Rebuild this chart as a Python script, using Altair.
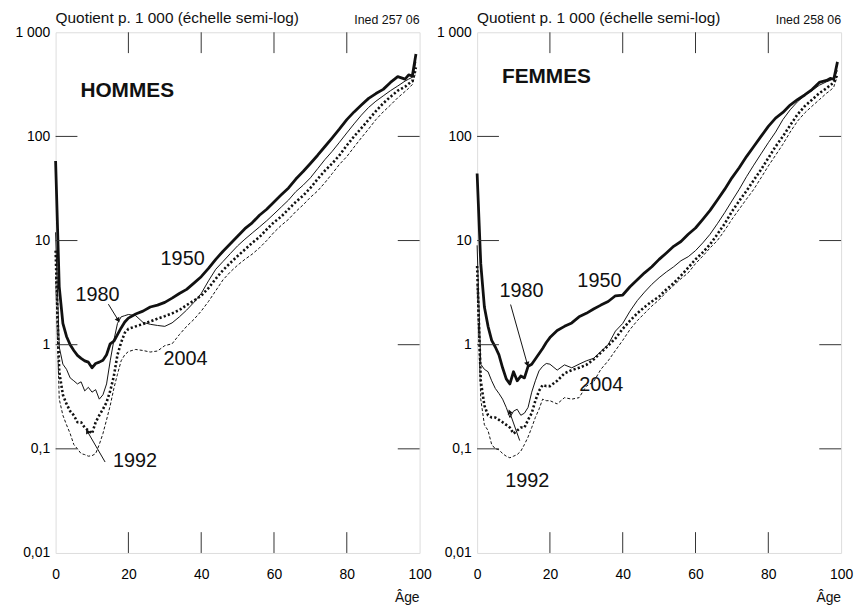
import altair as alt
import pandas as pd

# ---------------- data (quotients de mortalité p. 1 000) ----------------
AGES = list(range(0, 21)) + list(range(22, 97, 2)) + [97, 98, 99]

HOMMES_1950 = [58, 3.6, 1.6, 1.2, 1.0, 0.88, 0.79, 0.74, 0.70, 0.68, 0.60, 0.66, 0.68, 0.71, 0.80, 1.02, 1.08, 1.25, 1.45, 1.65, 1.8,
               1.97, 2.1, 2.3, 2.4, 2.55, 2.8, 3.1, 3.4, 3.9, 4.5, 5.4, 6.6, 7.9, 9.3, 11, 13, 14.8, 17.5, 20, 23.5, 27.5, 32,
               39, 46, 55, 66, 80, 97, 118, 145, 172, 200, 232, 258, 283, 330, 375, 355, 390, 380, 620]
HOMMES_1980 = [12, 0.95, 0.65, 0.58, 0.48, 0.45, 0.42, 0.44, 0.36, 0.39, 0.35, 0.37, 0.30, 0.33, 0.42, 0.70, 1.1, 1.6, 1.85, 1.9, 1.95,
               1.9, 1.64, 1.57, 1.53, 1.5, 1.62, 1.85, 2.15, 2.55, 3.1, 4.1, 5.3, 6.3, 7.5, 8.9, 10.3, 11.8, 13.5, 15.5, 18, 21, 24.5,
               29.5, 34, 40, 49, 60, 72, 88, 108, 132, 160, 190, 218, 245, 275, 305, 340, 355, 370, 520]
HOMMES_1992 = [8, 0.55, 0.33, 0.27, 0.23, 0.21, 0.18, 0.18, 0.16, 0.15, 0.14, 0.18, 0.21, 0.24, 0.28, 0.36, 0.5, 0.8, 1.05, 1.3, 1.42,
               1.5, 1.58, 1.67, 1.78, 1.88, 2.0, 2.15, 2.4, 2.65, 2.95, 3.5, 4.3, 5.2, 6.1, 7.1, 8.2, 9.5, 10.8, 12.8, 15, 17, 20,
               23.5, 27, 32, 39, 47, 55, 66, 82, 100, 120, 145, 175, 208, 240, 275, 300, 320, 340, 460]
HOMMES_2004 = [4.5, 0.3, 0.21, 0.17, 0.14, 0.11, 0.1, 0.09, 0.088, 0.085, 0.086, 0.09, 0.11, 0.14, 0.19, 0.26, 0.38, 0.52, 0.7, 0.8, 0.86,
               0.9, 0.88, 0.85, 0.87, 0.98, 1.02, 1.25, 1.5, 1.75, 2.1, 2.6, 3.3, 4.2, 5.0, 5.8, 6.6, 7.4, 8.5, 10, 12, 14, 16,
               19, 22, 26, 30, 36, 44, 54, 64, 79, 97, 118, 145, 172, 200, 235, 270, 290, 315, 420]

FEMMES_1950 = [44, 6, 2.3, 1.5, 1.1, 0.95, 0.8, 0.6, 0.47, 0.42, 0.55, 0.45, 0.5, 0.48, 0.62, 0.65, 0.73, 0.82, 0.92, 1.05, 1.17,
               1.37, 1.5, 1.62, 1.85, 2.0, 2.2, 2.4, 2.6, 2.95, 3.0, 3.6, 4.2, 4.9, 5.6, 6.6, 7.6, 8.8, 9.8, 11.5, 13.2, 16, 19.5,
               24.5, 31, 40, 50, 64, 80, 100, 125, 150, 170, 200, 225, 250, 282, 330, 345, 360, 355, 520]
FEMMES_1980 = [9, 0.65, 0.58, 0.55, 0.45, 0.38, 0.34, 0.3, 0.25, 0.2, 0.23, 0.24, 0.21, 0.22, 0.25, 0.35, 0.45, 0.56, 0.62, 0.66, 0.65,
               0.57, 0.64, 0.6, 0.65, 0.7, 0.74, 0.86, 1.0, 1.35, 1.6, 2.1, 2.65, 3.2, 3.8, 4.4, 5.0, 5.6, 6.4, 7.0, 8.0, 9.5, 11.5,
               14.5, 18.5, 24, 31, 41, 53, 68, 87, 110, 145, 180, 215, 248, 275, 310, 335, 345, 360, 430]
FEMMES_1992 = [5.7, 0.45, 0.26, 0.21, 0.2, 0.2, 0.19, 0.18, 0.17, 0.16, 0.14, 0.15, 0.16, 0.16, 0.19, 0.22, 0.29, 0.36, 0.41, 0.4, 0.4,
               0.45, 0.53, 0.57, 0.6, 0.64, 0.72, 0.84, 0.98, 1.15, 1.42, 1.7, 2.0, 2.3, 2.6, 2.9, 3.4, 3.9, 4.6, 5.5, 6.6, 7.7, 9.2,
               11.5, 14.5, 19, 24, 30, 38, 48, 62, 80, 100, 128, 162, 195, 225, 260, 290, 310, 330, 400]
FEMMES_2004 = [3.8, 0.3, 0.17, 0.15, 0.11, 0.1, 0.098, 0.09, 0.085, 0.082, 0.085, 0.088, 0.095, 0.11, 0.13, 0.16, 0.2, 0.24, 0.3, 0.29, 0.29,
               0.27, 0.31, 0.3, 0.31, 0.4, 0.44, 0.58, 0.7, 0.88, 1.1, 1.4, 1.7, 2.0, 2.35, 2.7, 3.2, 3.7, 4.3, 4.9, 6.0, 7.1, 8.5,
               10, 12.5, 16, 20, 25, 31, 40, 52, 66, 84, 110, 140, 168, 195, 225, 260, 275, 300, 380]

YEARS = ["1950", "1980", "1992", "2004"]

# tick values / labels
X_TICKS = [0, 20, 40, 60, 80, 100]
INNER_X_TICKS = [20, 40, 60, 80]
Y_TICKS = [0.01, 0.1, 1, 10, 100, 1000]
Y_LABELS = ["0,01", "0,1", "1", "10", "100", "1 000"]
INNER_Y_TICKS = [0.1, 1, 10, 100]

# annotations (texte, âge, quotient)
H_LABELS = {"t": ["1950", "1980", "2004", "1992"], "age": [34.9, 11.5, 35.7, 21.8], "q": [6.7, 2.97, 0.73, 0.0764]}
F_LABELS = {"t": ["1950", "1980", "2004", "1992"], "age": [33.6, 12.2, 34.1, 13.8], "q": [4.05, 3.3, 0.41, 0.0492]}
H_ARROWS = {"age": [14.5, 13.6], "q": [2.45, 0.0747], "age2": [17.2, 8.7], "q2": [1.72, 0.1476], "ang": [148, 330]}
F_ARROWS = {"age": [9.2, 11.7], "q": [2.43, 0.12], "age2": [13.8, 8.9], "q2": [0.65, 0.227], "ang": [164, 341]}

TITLE = "Quotient p. 1 000 (échelle semi-log)"
FONT = "Liberation Sans"
W, H = 367, 525
INK = "#111111"

label_expr = " : ".join(
    f"datum.value == {v} ? '{l}'" for v, l in zip(Y_TICKS, Y_LABELS)
) + " : ''"

X_ENC = alt.X("age:Q", scale=alt.Scale(domain=[0, 100], nice=False, zero=False),
              axis=alt.Axis(values=X_TICKS, title=None, grid=False, ticks=False, domain=False,
                            labelFlush=False, labelPadding=15, labelFontSize=14, format="d"))
Y_ENC = alt.Y("q:Q", scale=alt.Scale(type="log", domain=[0.01, 1000], nice=False),
              axis=alt.Axis(values=Y_TICKS, labelExpr=label_expr, title=None, grid=False, ticks=False,
                            domain=False, labelPadding=6, labelFontSize=14))

STYLES = {
    "1950": dict(strokeWidth=2.8),
    "1980": dict(strokeWidth=1.0),
    "1992": dict(strokeWidth=2.6, strokeDash=[2.2, 2.2]),
    "2004": dict(strokeWidth=1.0, strokeDash=[3, 2]),
}


def panel(series, sex, sex_y, ined, labels, arrows):
    rows = []
    for yr, vals in zip(YEARS, series):
        for a, v in zip(AGES, vals):
            rows.append({"age": a, "q": v, "year": yr})
    df = pd.DataFrame(rows)
    base = alt.Chart(df).encode(x=X_ENC, y=Y_ENC)
    layers = []
    for yr in YEARS:
        layers.append(base.transform_filter(alt.datum.year == yr)
                      .mark_line(color=INK, strokeJoin="round", **STYLES[yr]))

    xt = pd.DataFrame({"age": INNER_X_TICKS})
    yt = pd.DataFrame({"q": INNER_Y_TICKS})
    tick_style = dict(color="#333333", strokeWidth=1)
    layers.append(alt.Chart(xt).mark_rule(**tick_style).encode(x=X_ENC, y=alt.value(0), y2=alt.value(21)))
    layers.append(alt.Chart(xt).mark_rule(**tick_style).encode(x=X_ENC, y=alt.value(H - 21), y2=alt.value(H)))
    layers.append(alt.Chart(yt).mark_rule(**tick_style).encode(y=Y_ENC, x=alt.value(0), x2=alt.value(22)))
    layers.append(alt.Chart(yt).mark_rule(**tick_style).encode(y=Y_ENC, x=alt.value(W - 22), x2=alt.value(W)))

    layers.append(alt.Chart(pd.DataFrame(labels)).mark_text(font=FONT, fontSize=20, color=INK)
                  .encode(x=X_ENC, y=Y_ENC, text="t:N"))
    adf = pd.DataFrame(arrows)
    layers.append(alt.Chart(adf).mark_rule(color=INK, strokeWidth=1)
                  .encode(x=X_ENC, y=Y_ENC, x2="age2:Q", y2="q2:Q"))
    hdf = pd.DataFrame({"age": arrows["age2"], "q": arrows["q2"], "ang": arrows["ang"]})
    layers.append(alt.Chart(hdf).mark_point(shape="triangle-up", filled=True, size=30, color=INK, opacity=1)
                  .encode(x=X_ENC, y=Y_ENC, angle=alt.Angle("ang:Q", scale=None)))

    txt = pd.DataFrame({"t": [TITLE]})
    layers.append(alt.Chart(txt).mark_text(font=FONT, fontSize=15.5, align="left", baseline="middle", color=INK)
                  .encode(x=alt.value(0), y=alt.value(-14), text="t:N"))
    layers.append(alt.Chart(pd.DataFrame({"t": [ined]})).mark_text(font=FONT, fontSize=12.5, align="right",
                                                                   baseline="middle", color=INK)
                  .encode(x=alt.value(W), y=alt.value(-12), text="t:N"))
    layers.append(alt.Chart(pd.DataFrame({"t": [sex]})).mark_text(font=FONT, fontSize=21, fontWeight="bold",
                                                                  align="left", baseline="middle", color=INK)
                  .encode(x=alt.value(25), y=alt.value(sex_y), text="t:N"))
    layers.append(alt.Chart(pd.DataFrame({"t": ["Âge"]})).mark_text(font=FONT, fontSize=14, align="right",
                                                                    baseline="middle", color=INK)
                  .encode(x=alt.value(W), y=alt.value(H + 45), text="t:N"))
    return alt.layer(*layers).properties(width=W, height=H)


left = panel([HOMMES_1950, HOMMES_1980, HOMMES_1992, HOMMES_2004], "HOMMES", 59, "Ined 257 06", H_LABELS, H_ARROWS)
right = panel([FEMMES_1950, FEMMES_1980, FEMMES_1992, FEMMES_2004], "FEMMES", 45, "Ined 258 06", F_LABELS, F_ARROWS)

chart = alt.hconcat(left, right, spacing=58, bounds="flush").properties(
    padding={"left": 6, "top": 0, "right": 0, "bottom": 0}
).configure_view(stroke=INK, strokeWidth=1).configure_axis(
    labelFont=FONT, labelColor=INK
).configure(background="white")

chart.save("out.html", embed_options={"renderer": "svg", "actions": False})
